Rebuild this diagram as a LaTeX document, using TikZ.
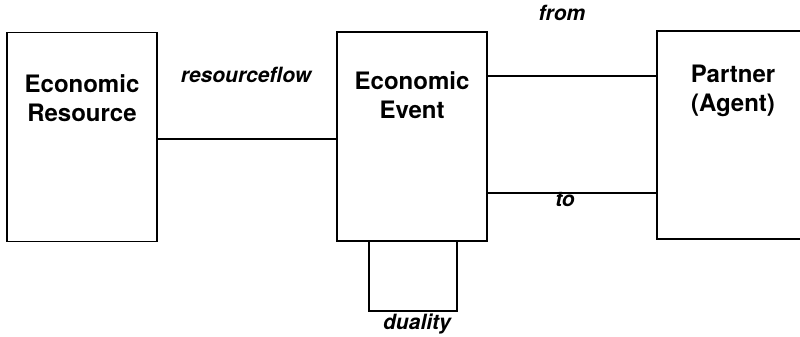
\documentclass[tikz,border=0pt]{standalone}
\usepackage{fontspec}
\setmainfont{TeX Gyre Heros}
\usetikzlibrary{positioning}
\begin{document}
\begin{tikzpicture}[x=1pt, y=-1pt,
  entity/.style={draw, line width=1.6pt, rectangle, inner sep=0pt, minimum width=150pt, minimum height=209pt},
  title/.style={font=\fontsize{24}{29}\selectfont\bfseries, align=center, anchor=north, inner sep=0pt},
  rel/.style={font=\fontsize{21}{25}\selectfont\bfseries\itshape, inner sep=0pt},
  link/.style={line width=1.6pt}]
  \useasboundingbox (0,0) rectangle (800,337);
  \clip (0,0) rectangle (800,337);

  % entity boxes
  \node[entity] (res) at (82,137) {};
  \node[entity] (evt) at (412,136.5) {};
  \node[entity, minimum width=152pt, minimum height=208pt] (agt) at (733,135) {};

  % box titles
  \node[title, yshift=-43pt] (restitle) at (res.north) {Economic\\Resource};
  \node[title, yshift=-40pt] (evttitle) at (evt.north) {Economic\\Event};
  \node[title, yshift=-35pt] (agttitle) at (agt.north) {Partner\\(Agent)};

  % resourceflow
  \draw[link] ([yshift=-2pt]res.east) -- ([yshift=-2pt]res.east -| evt.west);
  \node[rel] (rf) at (246,75) {resourceflow};

  % from / to
  \draw[link] ([yshift=-45pt]evt.north east) -- ([yshift=-45pt]evt.north east -| agt.west);
  \node[rel] (fromlbl) at (562,13) {from};
  \draw[link] ([yshift=-162pt]evt.north east) -- ([yshift=-162pt]evt.north east -| agt.west);
  \node[rel] (tolbl) at (565,200) {to};

  % duality loop
  \draw[link] ([xshift=33pt]evt.south west) -- ++(0,69) -| ([xshift=-31pt]evt.south east);
  \node[rel] (dual) at (417,324) {duality};
\end{tikzpicture}
\end{document}
